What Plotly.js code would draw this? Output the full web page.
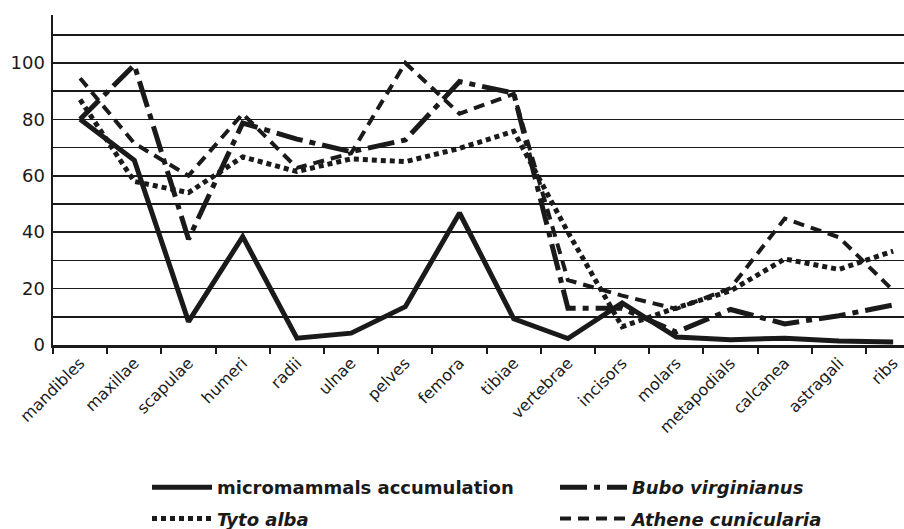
<!DOCTYPE html>
<html><head><meta charset="utf-8">
<script src="https://cdn.plot.ly/plotly-3.0.1.min.js"></script>
<style>html,body{margin:0;padding:0;background:#fff;}#chart{width:904px;height:529px;}</style>
</head><body><div id="chart"></div>
<script>
const categories = ['mandibles','maxillae','scapulae','humeri','radii','ulnae','pelves','femora','tibiae','vertebrae','incisors','molars','metapodials','calcanea','astragali','ribs'];
const micromammals = [80, 65.5, 8.3, 38.4, 2.4, 4.2, 13.6, 46.8, 9.3, 2.3, 14.9, 2.8, 1.9, 2.4, 1.4, 1.1];
const bubo = [80, 99.3, 37.5, 78.7, 73, 68.5, 72.7, 93.4, 89.3, 13, 13, 4.6, 12.6, 7.5, 10.4, 14.2];
const tyto = [87, 58, 54, 66.7, 61.5, 66, 65, 69.7, 75.8, 40, 6.5, 13.2, 19.2, 30.5, 26.8, 33.3];
const athene = [94.6, 71.5, 60, 82, 62.8, 68, 100, 82, 89, 23, 17.5, 12.8, 20.2, 44.8, 38.2, 19.3];
const seriesNames = ['micromammals accumulation', '<i>Bubo virginianus</i>', '<i>Tyto alba</i>', '<i>Athene cunicularia</i>'];
const yTicks = [0, 20, 40, 60, 80, 100];

const traces = [
  {x: categories, y: micromammals, name: seriesNames[0], legend: 'legend', legendgroup: 'a',
   line: {color: '#1a1a1a', width: 5, dash: 'solid'}},
  {x: categories, y: bubo, name: seriesNames[1], legend: 'legend2', legendgroup: 'b',
   line: {color: '#1a1a1a', width: 5, dash: '27px,7px,6px,7px'}},
  {x: categories, y: tyto, name: seriesNames[2], legend: 'legend', legendgroup: 'c',
   line: {color: '#1a1a1a', width: 5, dash: '5px,4px'}},
  {x: categories, y: athene, name: seriesNames[3], legend: 'legend2', legendgroup: 'd',
   line: {color: '#1a1a1a', width: 4, dash: '11px,7px'}}
].map(t => Object.assign({type: 'scatter', mode: 'lines', hoverinfo: 'skip'}, t));

const legendFont = {family: 'DejaVu Sans, Arial, sans-serif', size: 18, color: '#1a1a1a', weight: 'bold'};
const layout = {
  width: 904, height: 529,
  margin: {l: 53, r: 0, t: 15, b: 184, pad: 0, autoexpand: false},
  paper_bgcolor: '#fff', plot_bgcolor: '#fff',
  showlegend: true,
  xaxis: {
    type: 'category', range: [-0.5, 15.2], tickson: 'boundaries',
    ticks: 'outside', ticklen: 6, tickwidth: 2, tickcolor: '#1a1a1a',
    showline: true, linecolor: '#1a1a1a', linewidth: 2.5,
    showgrid: false, zeroline: false, automargin: false,
    tickangle: -45, tickfont: {family: 'DejaVu Sans, Arial, sans-serif', size: 16, color: '#1a1a1a'}
  },
  yaxis: {
    range: [0, 117], tickvals: yTicks, ticktext: yTicks.map(String),
    showline: true, linecolor: '#1a1a1a', linewidth: 2.5,
    showgrid: true, gridcolor: '#1a1a1a', gridwidth: 1.6,
    minor: {dtick: 10, showgrid: true, gridcolor: '#1a1a1a', gridwidth: 1.6},
    zeroline: false, ticks: '', ticklabelstandoff: 2, automargin: false,
    tickfont: {family: 'DejaVu Sans, Arial, sans-serif', size: 18, color: '#1a1a1a'}
  },
  legend: {
    x: 147/904, xref: 'container', xanchor: 'left',
    y: 1 - 469/529, yref: 'container', yanchor: 'top',
    orientation: 'v', font: legendFont, itemwidth: 60, tracegroupgap: 5,
    bgcolor: 'rgba(0,0,0,0)'
  },
  legend2: {
    x: 555/904, xref: 'container', xanchor: 'left',
    y: 1 - 469/529, yref: 'container', yanchor: 'top',
    orientation: 'v', font: legendFont, itemwidth: 67, tracegroupgap: 5,
    bgcolor: 'rgba(0,0,0,0)'
  }
};
Plotly.newPlot('chart', traces, layout, {displayModeBar: false, staticPlot: true});
</script></body></html>
